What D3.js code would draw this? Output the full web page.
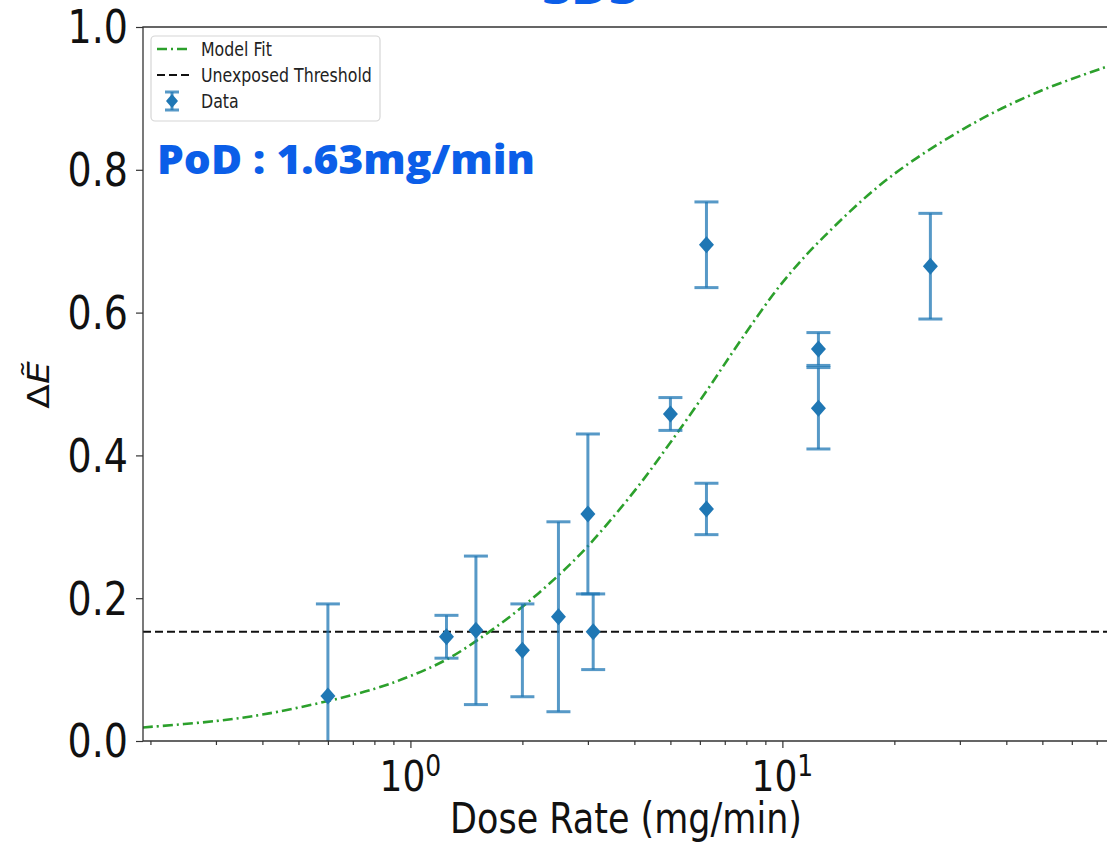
<!DOCTYPE html>
<meta charset="utf-8">
<style>
body { margin: 0; background: #fff; }
text { font-family: "DejaVu Sans", sans-serif; fill: #111; }
.spine { stroke: #333; stroke-width: 1.3; fill: none; }
.tick line { stroke: #333; stroke-width: 1.2; }
.fit { fill: none; stroke: #2ca02c; stroke-width: 2.6; stroke-dasharray: 10,4,2,4; }
.thresh { fill: none; stroke: #111; stroke-width: 2; stroke-dasharray: 8,4; }
.err { stroke: #1f77b4; stroke-opacity: 0.75; stroke-width: 3; }
.dot { fill: #1f77b4; }
.legend-text { font-size: 15.8px; fill: #222; }
.overlay { font-family: "Open Sans", sans-serif; font-weight: 800; fill: #0b5ee8; }
</style>
<svg width="1107" height="844"></svg>
<script src="https://cdn.jsdelivr.net/npm/d3@7"></script>
<script>

// measured data (dose rate in mg/min, delta E)
var doses  = [0.6, 1.25, 1.5, 2, 2.5, 3, 3.1, 5, 6.25, 6.25, 12.5, 12.5, 25];
var means  = [0.063, 0.146, 0.155, 0.127, 0.174, 0.318, 0.153, 0.458, 0.695, 0.325, 0.549, 0.466, 0.665];
var errs   = [0.129, 0.030, 0.104, 0.065, 0.133, 0.112, 0.053, 0.023, 0.060, 0.036, 0.023, 0.057, 0.074];

// model fit curve
var fitDose = [0.191, 0.3, 0.4, 0.6, 0.8, 1.0, 1.26, 1.6, 2.0, 2.5, 3.0, 4.0, 5.0, 6.25, 7.7, 10, 12.86, 19.5, 32.6, 49.2, 76];
var fitVal  = [0.019, 0.028, 0.037, 0.056, 0.073, 0.091, 0.115, 0.150, 0.188, 0.232, 0.273, 0.35, 0.418, 0.49, 0.56, 0.642, 0.705, 0.79, 0.865, 0.91, 0.946];

var threshold = 0.153;
var yTicks = [0, 0.2, 0.4, 0.6, 0.8, 1.0];
var xMajor = [1, 10];
var xMajorExp = ["0", "1"];
var xMinor = [0.2, 0.3, 0.4, 0.5, 0.6, 0.7, 0.8, 0.9, 2, 3, 4, 5, 6, 7, 8, 9, 20, 30, 40, 50, 60, 70];
var legendLabels = ["Model Fit", "Unexposed Threshold", "Data"];
var podLabel = "PoD : 1.63mg/min";
var titleLabel = "SDS";

var svg = d3.select("svg");
var SY = 1.2; // the figure is stretched vertically

var x = d3.scaleLog().domain([0.191, 76]).range([143, 1110]);
var y = d3.scaleLinear().domain([0, 1]).range([741, 27]);

function stretched(px, py) {
  return svg.append("g").attr("transform", "translate(" + px + "," + py + ") scale(1," + SY + ")");
}

svg.append("defs").append("clipPath").attr("id", "plot")
  .append("rect").attr("x", 143).attr("y", 27).attr("width", 967).attr("height", 714);

var plot = svg.append("g").attr("clip-path", "url(#plot)");

// threshold
plot.append("line").attr("class", "thresh")
  .attr("x1", 143).attr("x2", 1110)
  .attr("y1", y(threshold)).attr("y2", y(threshold));

// model fit
var line = d3.line()
  .x(function(d, i) { return x(fitDose[i]); })
  .y(function(d) { return y(d); })
  .curve(d3.curveCatmullRom.alpha(0.5));
plot.append("path").attr("class", "fit").attr("d", line(fitVal));

// error bars
var pts = plot.append("g").selectAll("g")
  .data(doses).enter().append("g");
pts.append("line").attr("class", "err")
  .attr("x1", function(d) { return x(d); }).attr("x2", function(d) { return x(d); })
  .attr("y1", function(d, i) { return y(means[i] - errs[i]); })
  .attr("y2", function(d, i) { return y(means[i] + errs[i]); });
[-1, 1].forEach(function(s) {
  pts.append("line").attr("class", "err")
    .attr("x1", function(d) { return x(d) - 12; }).attr("x2", function(d) { return x(d) + 12; })
    .attr("y1", function(d, i) { return y(means[i] + s * errs[i]); })
    .attr("y2", function(d, i) { return y(means[i] + s * errs[i]); });
});
pts.append("path").attr("class", "dot")
  .attr("d", function(d, i) {
    var cx = x(d), cy = y(means[i]);
    return "M" + cx + "," + (cy - 8.5) + "L" + (cx + 7.5) + "," + cy +
      "L" + cx + "," + (cy + 8.5) + "L" + (cx - 7.5) + "," + cy + "Z";
  });

// spines
svg.append("path").attr("class", "spine")
  .attr("d", "M1110,27H143V741H1110");

// y axis
var yAxis = svg.append("g").attr("transform", "translate(143,0)")
  .call(d3.axisLeft(y).tickValues(yTicks).tickSize(7).tickFormat(""));
yAxis.select(".domain").remove();
yTicks.forEach(function(v) {
  stretched(128, y(v)).append("text")
    .attr("text-anchor", "end").attr("dy", "0.36em")
    .style("font-size", "38px")
    .text(d3.format(".1f")(v));
});

// x axis
var xMinAxis = svg.append("g").attr("transform", "translate(0,741)")
  .call(d3.axisBottom(x).tickValues(xMinor).tickSize(4).tickFormat(""));
xMinAxis.select(".domain").remove();
var xMajAxis = svg.append("g").attr("transform", "translate(0,741)")
  .call(d3.axisBottom(x).tickValues(xMajor).tickSize(7).tickFormat(""));
xMajAxis.select(".domain").remove();
xMajor.forEach(function(v, i) {
  var t = stretched(x(v), 791).append("text")
    .attr("text-anchor", "middle").style("font-size", "36px");
  t.append("tspan").text("10");
  t.append("tspan").attr("dy", "-0.5em").style("font-size", "25px").text(xMajorExp[i]);
});

stretched(626, 833).append("text")
  .attr("text-anchor", "middle").style("font-size", "35px")
  .text("Dose Rate (mg/min)");

// y label
var yl = svg.append("g").attr("transform", "translate(49,385) scale(1," + SY + ") rotate(-90)")
  .append("text").attr("text-anchor", "middle").style("font-size", "30px");
yl.append("tspan").text("Δ");
yl.append("tspan").style("font-style", "italic").text("Ẽ");

// legend
var lg = svg.append("g");
lg.append("rect").attr("x", 151).attr("y", 36).attr("width", 229).attr("height", 85)
  .attr("rx", 4).attr("fill", "#fff").attr("fill-opacity", 0.8)
  .attr("stroke", "#d6d6d6").attr("stroke-width", 1.2);
var rowY = [49, 75, 101];
lg.append("line").attr("class", "fit").attr("stroke-width", 2.2)
  .attr("x1", 157).attr("x2", 189).attr("y1", rowY[0]).attr("y2", rowY[0]);
lg.append("line").attr("class", "thresh").attr("stroke-width", 1.8).attr("stroke-dasharray", "6,3")
  .attr("x1", 157).attr("x2", 189).attr("y1", rowY[1]).attr("y2", rowY[1]);
lg.append("line").attr("class", "err").attr("stroke-width", 2.5)
  .attr("x1", 172).attr("x2", 172).attr("y1", rowY[2] - 9).attr("y2", rowY[2] + 9);
[-9, 9].forEach(function(o) {
  lg.append("line").attr("class", "err").attr("stroke-width", 2.5)
    .attr("x1", 165).attr("x2", 179).attr("y1", rowY[2] + o).attr("y2", rowY[2] + o);
});
lg.append("path").attr("class", "dot")
  .attr("d", "M172," + (rowY[2] - 7) + "L178," + rowY[2] + "L172," + (rowY[2] + 7) + "L166," + rowY[2] + "Z");
legendLabels.forEach(function(l, i) {
  stretched(201, rowY[i] + 7).append("text").attr("class", "legend-text").text(l);
});

// overlay annotations
svg.append("text").attr("class", "overlay")
  .attr("x", 157).attr("y", 174)
  .attr("textLength", 378).attr("lengthAdjust", "spacingAndGlyphs")
  .style("font-size", "40px")
  .text(podLabel);
svg.append("text").attr("class", "overlay")
  .attr("x", 542).attr("y", 4)
  .attr("textLength", 96).attr("lengthAdjust", "spacingAndGlyphs")
  .style("font-size", "42px")
  .text(titleLabel);

</script>
